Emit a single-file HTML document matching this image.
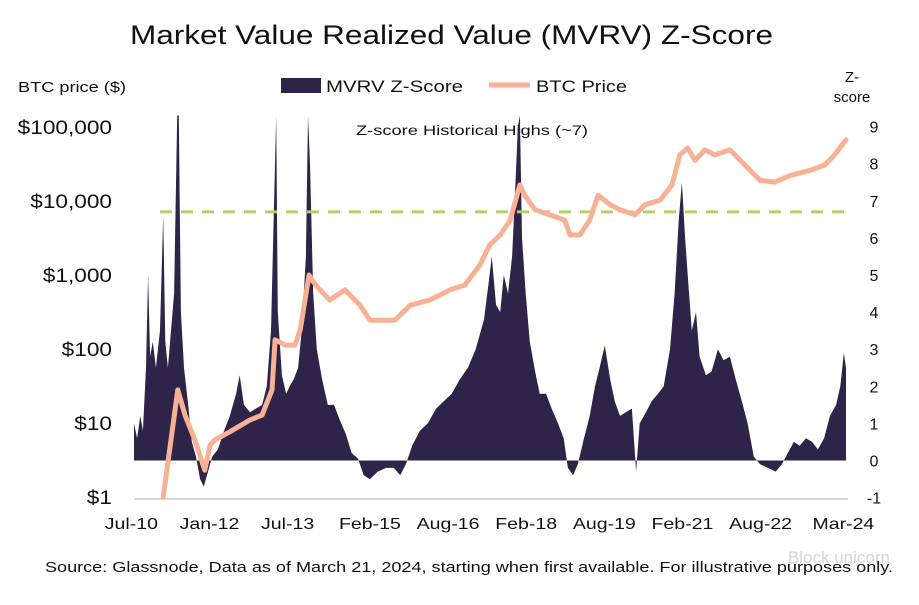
<!DOCTYPE html>
<html><head><meta charset="utf-8"><style>
body{margin:0;background:#fff;}
svg text{font-family:"Liberation Sans",sans-serif;fill:#111;}
</style></head><body>
<svg id="chart" width="919" height="600" viewBox="0 0 919 600">
<text x="130" y="44" font-size="27" textLength="643" lengthAdjust="spacingAndGlyphs">Market Value Realized Value (MVRV) Z-Score</text>
<text x="18" y="92" font-size="15" textLength="108" lengthAdjust="spacingAndGlyphs">BTC price ($)</text>
<text x="852" y="82" text-anchor="middle" font-size="15"><tspan x="852">Z-</tspan><tspan x="852" dy="20">score</tspan></text>
<g>
<rect x="281" y="78" width="40" height="15" fill="#2e2449"/>
<text x="326" y="92" font-size="17" textLength="137" lengthAdjust="spacingAndGlyphs">MVRV Z-Score</text>
<line x1="489" y1="85" x2="530" y2="85" stroke="#f9b195" stroke-width="5"/>
<text x="536" y="92" font-size="17" textLength="91" lengthAdjust="spacingAndGlyphs">BTC Price</text>
</g>
<text x="356" y="135" font-size="14" textLength="232" lengthAdjust="spacingAndGlyphs">Z-score Historical Highs (~7)</text>
<g id="plot"></g>
<text x="45" y="572" font-size="15" textLength="848" lengthAdjust="spacingAndGlyphs">Source: Glassnode, Data as of March 21, 2024, starting when first available. For illustrative purposes only.</text>
<text x="890" y="563" text-anchor="end" font-size="17" style="fill:#bbb;opacity:0.6">Block unicorn</text>
</svg>
<script>
const zDates=[2010.55,2010.61,2010.67,2010.72,2010.78,2010.82,2010.86,2010.91,2010.97,2011.05,2011.11,2011.15,2011.20,2011.26,2011.32,2011.38,2011.41,2011.45,2011.51,2011.59,2011.66,2011.74,2011.82,2011.89,2011.97,2012.05,2012.16,2012.28,2012.39,2012.51,2012.58,2012.66,2012.78,2012.89,2013.01,2013.10,2013.18,2013.24,2013.28,2013.31,2013.39,2013.47,2013.54,2013.62,2013.70,2013.77,2013.85,2013.89,2013.93,2013.99,2014.06,2014.16,2014.27,2014.39,2014.50,2014.62,2014.73,2014.85,2014.96,2015.08,2015.23,2015.39,2015.54,2015.66,2015.77,2015.89,2016.04,2016.19,2016.35,2016.50,2016.65,2016.81,2016.96,2017.11,2017.27,2017.36,2017.42,2017.50,2017.58,2017.65,2017.73,2017.81,2017.86,2017.92,2017.96,2018.00,2018.07,2018.15,2018.25,2018.34,2018.46,2018.57,2018.69,2018.80,2018.88,2018.98,2019.07,2019.19,2019.30,2019.40,2019.49,2019.59,2019.69,2019.78,2019.88,2019.99,2020.11,2020.19,2020.26,2020.38,2020.49,2020.61,2020.72,2020.84,2020.93,2021.01,2021.07,2021.13,2021.18,2021.26,2021.34,2021.41,2021.53,2021.64,2021.76,2021.87,2021.99,2022.10,2022.22,2022.33,2022.45,2022.57,2022.72,2022.87,2022.99,2023.10,2023.22,2023.33,2023.45,2023.57,2023.68,2023.80,2023.91,2024.03,2024.11,2024.18,2024.22];
const zValues=[1.0,0.6,1.2,0.8,2.5,5.0,2.8,3.2,2.5,3.5,6.6,3.2,2.5,3.5,4.5,9.3,9.3,4.0,2.5,1.5,0.5,0.1,-0.5,-0.7,-0.3,0.1,0.3,0.8,1.2,1.8,2.3,1.5,1.3,1.4,1.5,2.0,3.5,7.0,9.3,4.0,2.3,1.8,2.0,2.2,2.5,3.5,5.5,9.3,8.0,4.5,3.0,2.2,1.5,1.5,1.1,0.7,0.2,0.05,-0.4,-0.5,-0.3,-0.2,-0.2,-0.4,-0.1,0.4,0.8,1.0,1.4,1.6,1.8,2.2,2.5,3.0,3.8,4.8,5.5,4.2,4.0,5.0,4.5,5.5,7.0,9.0,9.3,6.0,4.5,3.2,2.4,1.8,1.8,1.4,1.0,0.6,-0.2,-0.4,-0.1,0.6,1.2,2.0,2.5,3.1,2.2,1.6,1.2,1.3,1.4,-0.3,1.0,1.3,1.6,1.8,2.0,3.0,4.5,6.5,7.5,6.0,5.0,3.5,4.0,2.8,2.3,2.4,3.0,2.7,2.8,2.2,1.6,1.0,0.1,-0.1,-0.2,-0.3,-0.1,0.2,0.5,0.4,0.6,0.5,0.3,0.6,1.2,1.5,2.0,2.9,2.5];
const priceDates=[2011.11,2011.39,2011.53,2011.72,2011.91,2012.01,2012.10,2012.39,2012.78,2013.01,2013.20,2013.26,2013.45,2013.64,2013.74,2013.91,2013.97,2014.12,2014.31,2014.60,2014.89,2015.08,2015.27,2015.56,2015.85,2016.23,2016.62,2016.90,2017.19,2017.38,2017.58,2017.77,2017.96,2018.05,2018.25,2018.53,2018.82,2018.92,2019.11,2019.30,2019.46,2019.69,2019.88,2020.17,2020.36,2020.65,2020.88,2021.03,2021.18,2021.32,2021.51,2021.70,2021.99,2022.28,2022.57,2022.85,2023.14,2023.53,2023.81,2024.00,2024.22];
const priceValues=[1,28,12.8,5.9,2.3,5.0,5.9,7.6,11,12.8,28,133,113,113,180,1000,850,630,460,630,390,245,245,245,390,460,630,730,1360,2540,3470,5500,16500,12000,7600,6500,5500,3470,3470,5500,12000,8900,7600,6500,8900,10300,16500,42000,52000,35500,49000,42000,49000,30600,19000,18000,22000,26000,30600,42000,67000];
const priceTicks=[1,10,100,1000,10000,100000];
const priceTickLabels=["$1","$10","$100","$1,000","$10,000","$100,000"];
const zTicks=[-1,0,1,2,3,4,5,6,7,8,9];
const xTickDates=[2010.5,2012.0,2013.5,2015.08,2016.58,2018.08,2019.58,2021.08,2022.58,2024.17];
const xTickLabels=["Jul-10","Jan-12","Jul-13","Feb-15","Aug-16","Feb-18","Aug-19","Feb-21","Aug-22","Mar-24"];
const zHigh=6.7;

const NS="http://www.w3.org/2000/svg";
const X0=134,X1=846,D0=2010.55,D1=2024.22;
const xs=d=>X0+(d-D0)*(X1-X0)/(D1-D0);
const yp=p=>497-74*Math.log10(p);
const yz=z=>460.5-37.1*z;
const plot=document.getElementById('plot');
function mk(tag,attrs){const e=document.createElementNS(NS,tag);for(const k in attrs)e.setAttribute(k,attrs[k]);plot.appendChild(e);return e;}
function stretch(t,f){const w=t.getComputedTextLength();if(w>0){t.setAttribute('textLength',(w*f).toFixed(1));t.setAttribute('lengthAdjust','spacingAndGlyphs');}}

let d=`M${xs(zDates[0])},${yz(0)}`;
zDates.forEach((t,i)=>{d+=` L${xs(t).toFixed(1)},${yz(zValues[i]).toFixed(1)}`;});
d+=` L${xs(zDates[zDates.length-1])},${yz(0)} Z`;
const area=mk('path',{d:d,fill:'#2e2449'});



const ax=mk('line',{x1:134,y1:499,x2:848,y2:499,stroke:'#ccc','stroke-width':1.5});



const hl=mk('line',{x1:160,y1:yz(zHigh),x2:848,y2:yz(zHigh),stroke:'#b5d06a','stroke-width':3,'stroke-dasharray':'12 9'});



let pd='';
priceDates.forEach((t,i)=>{pd+=(i?' L':'M')+xs(t).toFixed(1)+','+yp(priceValues[i]).toFixed(1);});
const pl=mk('path',{d:pd,fill:'none',stroke:'#f9b195','stroke-width':5,'stroke-linejoin':'round','stroke-linecap':'round'});



priceTicks.forEach((p,i)=>{
 const t=mk('text',{x:112,y:yp(p)+7,'text-anchor':'end','font-size':19});
 t.textContent=priceTickLabels[i];
 
 
 stretch(t,1.19);
});
zTicks.forEach(z=>{
 const t=mk('text',{x:874,y:yz(z)+6,'text-anchor':'middle','font-size':16});
 t.textContent=String(z);
 
 
});
xTickDates.forEach((t0,i)=>{
 const t=mk('text',{x:xs(t0),y:529,'text-anchor':'middle','font-size':16});
 t.textContent=xTickLabels[i];
 
 
 stretch(t,1.22);
});
</script>
</body></html>
